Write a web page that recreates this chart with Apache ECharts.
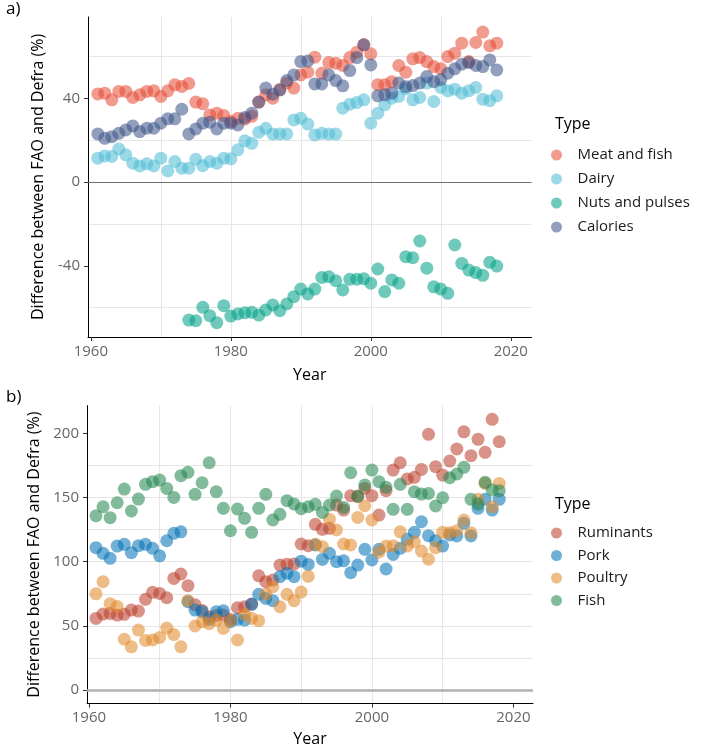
<!DOCTYPE html>
<html>
<head>
<meta charset="utf-8">
<script src="https://cdn.jsdelivr.net/npm/echarts@6/dist/echarts.min.js"></script>
<style>
html, body { margin: 0; padding: 0; background: #fff; }
#main { width: 710px; height: 751px; }
</style>
</head>
<body>
<div id="main"></div>
<script>
// years 1961..2018 (panel a & b), nuts from 1974
var years = [];
for (var y = 1961; y <= 2018; y++) years.push(y);
var yearsNuts = [];
for (var y = 1974; y <= 2018; y++) yearsNuts.push(y);

var xTicks = [1960, 1980, 2000, 2020];
var yTicksA = [-40, 0, 40];
var yTicksB = [0, 50, 100, 150, 200];

// panel a
var namesA = ['Meat and fish', 'Dairy', 'Nuts and pulses', 'Calories'];
var meatFish = [42.2, 42.6, 39.4, 43.4, 43.4, 40.5, 41.8, 43.4, 43.7, 41.0, 43.7, 46.6, 45.8, 47.2,
  38.3, 37.5, 32.2, 33.0, 31.9, 29.0, 30.6, 30.2, 31.5, 38.3, 41.8, 40.2, 44.2, 47.4, 45.0, 51.3,
  52.6, 59.8, 52.1, 57.2, 56.9, 55.8, 59.6, 62.2, 65.7, 61.4, 46.6, 46.6, 48.1, 55.8, 52.6, 59.0,
  59.6, 57.7, 55.3, 54.2, 60.1, 61.7, 66.5, 57.7, 66.8, 71.8, 65.2, 66.5];
var dairy = [11.5, 12.6, 12.3, 15.9, 13.1, 9.1, 7.8, 8.8, 7.8, 11.5, 5.4, 9.9, 6.7, 6.7,
  11.0, 7.9, 9.9, 9.1, 11.5, 11.2, 15.5, 19.8, 18.6, 23.9, 25.8, 23.0, 23.1, 23.1, 29.8, 30.6,
  27.8, 22.6, 23.4, 23.0, 23.0, 35.4, 37.3, 38.1, 39.4, 28.2, 33.0, 37.0, 40.2, 41.0, 44.6, 39.4,
  40.5, 47.4, 38.6, 45.3, 43.7, 44.5, 42.6, 43.7, 45.3, 39.7, 39.0, 41.3];
var nutsPulses = [-65.9, -66.2, -59.8, -63.8, -67.2, -59.0, -64.0, -63.0, -62.4, -62.2, -63.5, -61.1,
  -58.7, -61.4, -58.2, -54.7, -51.1, -53.4, -51.1, -45.5, -45.2, -47.1, -51.5, -46.4, -46.4, -46.1,
  -48.3, -41.5, -52.3, -46.7, -48.3, -35.6, -36.1, -28.1, -41.1, -50.0, -51.1, -53.1, -30.0, -38.8,
  -42.0, -43.2, -44.5, -38.3, -40.1];
var calories = [23.1, 21.0, 21.8, 23.4, 25.0, 26.9, 24.2, 25.8, 25.8, 28.2, 30.3, 30.3, 34.9, 23.1,
  25.5, 28.2, 28.7, 25.5, 28.2, 28.2, 27.4, 31.0, 33.0, 38.3, 45.0, 42.1, 44.2, 48.6, 51.3, 57.7,
  58.0, 47.0, 47.0, 51.3, 48.6, 46.1, 53.4, 59.6, 65.7, 56.1, 41.3, 41.8, 42.6, 47.4, 45.7, 46.2,
  47.4, 50.5, 48.1, 49.0, 52.1, 54.2, 56.4, 57.2, 55.8, 55.3, 58.5, 53.7];

// panel b
var namesB = ['Ruminants', 'Pork', 'Poultry', 'Fish'];
var ruminants = [55.8, 59.2, 59.7, 58.4, 59.0, 62.3, 61.5, 70.7, 76.1, 75.3, 71.9, 87.0, 90.4, 81.3,
  66.5, 62.0, 57.0, 58.0, 58.4, 55.0, 64.1, 64.9, 67.0, 89.0, 84.4, 85.7, 97.4, 98.0, 98.2, 113.8,
  112.4, 129.1, 125.2, 126.0, 144.1, 140.2, 151.4, 150.6, 157.1, 151.4, 136.3, 155.3, 171.4, 177.1,
  164.4, 165.7, 171.9, 199.2, 174.0, 167.5, 178.4, 187.8, 201.2, 182.6, 195.3, 185.2, 210.9, 193.5];
var pork = [110.9, 106.5, 102.6, 112.2, 113.5, 107.0, 112.4, 113.5, 110.4, 104.6, 116.3, 122.1, 123.3,
  68.8, 62.3, 61.0, 55.1, 61.0, 61.8, 53.2, 55.1, 54.5, 66.8, 74.6, 71.4, 69.6, 88.3, 90.9, 88.3,
  100.4, 97.9, 113.0, 101.8, 106.5, 100.0, 100.7, 91.4, 97.4, 109.6, 101.3, 109.6, 94.3, 105.7,
  110.4, 117.4, 122.9, 131.1, 120.2, 116.3, 112.2, 120.8, 120.0, 129.9, 120.0, 141.6, 148.6, 140.2, 148.6];
var poultry = [75.0, 84.4, 67.3, 65.0, 39.6, 33.7, 46.7, 38.6, 39.0, 41.0, 48.3, 43.2, 33.7, 69.6,
  49.9, 53.2, 51.7, 54.5, 48.1, 54.0, 39.0, 59.0, 55.8, 54.0, 74.6, 80.5, 64.9, 74.6, 69.6, 76.3,
  88.6, 113.5, 111.7, 133.0, 124.7, 113.8, 113.0, 134.5, 143.6, 132.5, 107.4, 112.2, 112.4, 123.3,
  112.2, 115.5, 108.3, 101.9, 110.9, 122.9, 122.5, 124.1, 132.5, 122.5, 148.6, 161.0, 142.8, 161.0];
var fish = [135.8, 142.8, 134.3, 145.9, 156.6, 139.5, 148.8, 160.3, 162.3, 163.6, 157.1, 150.1, 167.0,
  169.6, 152.5, 161.5, 177.1, 154.5, 141.6, 124.1, 141.0, 133.8, 122.9, 141.6, 152.5, 132.5, 136.9,
  147.5, 144.9, 141.3, 142.8, 144.7, 138.4, 144.1, 151.1, 142.3, 169.3, 151.1, 159.7, 171.4, 162.3,
  157.9, 140.8, 160.3, 140.8, 154.5, 152.7, 153.2, 143.4, 149.8, 165.4, 168.3, 173.5, 148.6, 144.9,
  161.8, 155.8, 155.3];

var colorsA = ['rgba(230,75,53,0.7)', 'rgba(77,187,213,0.7)', 'rgba(0,160,135,0.7)', 'rgba(60,84,136,0.7)'];
var colorsB = ['rgba(188,60,41,0.7)', 'rgba(0,114,181,0.7)', 'rgba(225,135,39,0.7)', 'rgba(32,133,78,0.7)'];

var FONT = '"Open Sans", "Noto Sans", sans-serif';
var GRIDLINE = '#e6e6e6';

function pairs(xs, vals) {
  var out = [];
  for (var i = 0; i < vals.length; i++) out.push([xs[i], vals[i]]);
  return out;
}

function xAxisFor(gi, min, max, gap) {
  return {
    type: 'value', gridIndex: gi, min: min, max: max,
    minInterval: 20, maxInterval: 20,
    name: 'Year', nameLocation: 'middle', nameGap: gap,
    nameTextStyle: { fontFamily: FONT, fontSize: 16, color: '#000' },
    axisLine: { show: true, onZero: false, lineStyle: { color: '#000', width: 1 } },
    axisTick: { show: true, length: 4, customValues: xTicks, lineStyle: { color: '#333' } },
    axisLabel: {
      fontFamily: FONT, fontSize: 15, color: '#666', margin: 7,
      customValues: xTicks,
      formatter: function (v) { return v % 20 === 0 ? String(v) : ''; }
    },
    splitLine: { show: true, showMinLine: false, showMaxLine: false, lineStyle: { color: GRIDLINE, width: 1 } },
    minorTick: { show: false, splitNumber: 2 },
    minorSplitLine: { show: true, lineStyle: { color: GRIDLINE, width: 1 } }
  };
}

function yAxisFor(gi, min, max, step, ticks, gap) {
  return {
    type: 'value', gridIndex: gi, min: min, max: max,
    minInterval: step, maxInterval: step,
    name: 'Difference between FAO and Defra (%)', nameLocation: 'middle', nameGap: gap,
    nameTextStyle: { fontFamily: FONT, fontSize: 16, color: '#000' },
    axisLine: { show: true, onZero: false, lineStyle: { color: '#000', width: 1 } },
    axisTick: { show: true, length: 4, customValues: ticks, lineStyle: { color: '#333' } },
    axisLabel: {
      fontFamily: FONT, fontSize: 15, color: '#666', margin: 8,
      customValues: ticks,
      formatter: function (v) { return v % step === 0 ? String(v) : ''; }
    },
    splitLine: { show: true, showMinLine: false, showMaxLine: false, lineStyle: { color: GRIDLINE, width: 1 } },
    minorTick: { show: false, splitNumber: 2 },
    minorSplitLine: { show: true, lineStyle: { color: GRIDLINE, width: 1 } }
  };
}

function zeroLine(color, width) {
  return {
    silent: true, symbol: ['none', 'none'], label: { show: false },
    lineStyle: { color: color, width: width, type: 'solid' },
    emphasis: { disabled: true },
    data: [{ yAxis: 0 }]
  };
}

function scatter(name, idx, xs, vals, color, mark) {
  var s = {
    type: 'scatter', name: name, xAxisIndex: idx, yAxisIndex: idx,
    data: pairs(xs, vals), symbol: 'circle', symbolSize: 13,
    itemStyle: { color: color },
    emphasis: { disabled: true }
  };
  if (mark) s.markLine = mark;
  return s;
}

function legendFor(names, top, gap) {
  return {
    data: names, orient: 'vertical', left: 546, top: top,
    icon: 'circle', itemWidth: 32, itemHeight: 11, itemGap: gap,
    symbolKeepAspect: true, selectedMode: false,
    textStyle: { fontFamily: FONT, fontSize: 15, color: '#1a1a1a', lineHeight: 16 }
  };
}

var titleStyle = { fontFamily: FONT, fontSize: 17, fontWeight: 'normal', color: '#000' };
var typeStyle = { fontFamily: FONT, fontSize: 16, fontWeight: 'normal', color: '#000' };

var chart = echarts.init(document.getElementById('main'), null, { renderer: 'canvas' });
chart.setOption({
  animation: false,
  backgroundColor: '#fff',
  title: [
    { text: 'a)', left: 6, top: 1, padding: 0, textStyle: titleStyle },
    { text: 'Type', left: 555, top: 116, padding: 0, textStyle: typeStyle },
    { text: 'b)', left: 6, top: 389, padding: 0, textStyle: titleStyle },
    { text: 'Type', left: 555, top: 496, padding: 0, textStyle: typeStyle }
  ],
  legend: [legendFor(namesA, 142, 8), legendFor(namesB, 520, 6.5)],
  grid: [
    { left: 88, top: 17, width: 443.5, height: 320, containLabel: false, outerBoundsMode: 'none' },
    { left: 87, top: 405.6, width: 446, height: 298, containLabel: false, outerBoundsMode: 'none' }
  ],
  xAxis: [xAxisFor(0, 1959.6, 2022.96, 30), xAxisFor(1, 1959.73, 2022.77, 28)],
  yAxis: [yAxisFor(0, -74, 79, 40, yTicksA, 42), yAxisFor(1, -10.55, 221.6, 50, yTicksB, 42)],
  series: [
    scatter(namesA[0], 0, years, meatFish, colorsA[0], zeroLine('#6e6e6e', 1.2)),
    scatter(namesA[1], 0, years, dairy, colorsA[1]),
    scatter(namesA[2], 0, yearsNuts, nutsPulses, colorsA[2]),
    scatter(namesA[3], 0, years, calories, colorsA[3]),
    scatter(namesB[0], 1, years, ruminants, colorsB[0], zeroLine('#b0b0b0', 2.5)),
    scatter(namesB[1], 1, years, pork, colorsB[1]),
    scatter(namesB[2], 1, years, poultry, colorsB[2]),
    scatter(namesB[3], 1, years, fish, colorsB[3])
  ]
});
</script>
</body>
</html>
